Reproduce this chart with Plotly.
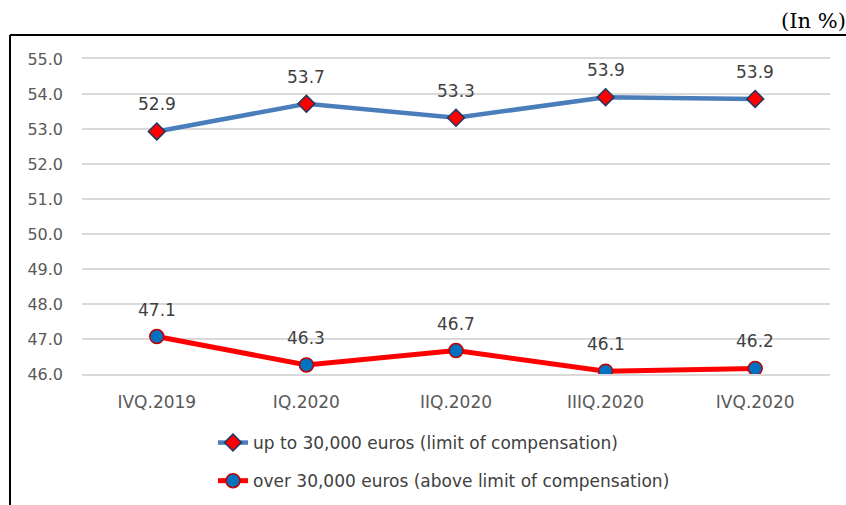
import plotly.graph_objects as go

categories = ["IVQ.2019", "IQ.2020", "IIQ.2020", "IIIQ.2020", "IVQ.2020"]
up_to_30k = [52.93, 53.72, 53.32, 53.91, 53.86]
over_30k = [47.07, 46.26, 46.67, 46.08, 46.16]
name_up = "up to 30,000 euros (limit of compensation)"
name_over = "over 30,000 euros (above limit of compensation)"
y_ticks = [46.0, 47.0, 48.0, 49.0, 50.0, 51.0, 52.0, 53.0, 54.0, 55.0]

W, H = 846, 505
L, R, T, B = 82, 16, 59, 131
pw, ph = W - L - R, H - T - B

def px(x):
    return (x - L) / pw

def py(y):
    return (H - B - y) / ph

FONT = "DejaVu Sans"

fig = go.Figure()
fig.add_trace(go.Scatter(
    x=categories, y=up_to_30k, name=name_up, mode="lines+markers",
    legendgroup="a",
    line=dict(color="#4a7ebb", width=4.5),
    marker=dict(symbol="diamond", size=13, color="#ff0000",
                line=dict(color="#1f3864", width=1.5)),
))
fig.add_trace(go.Scatter(
    x=categories, y=over_30k, name=name_over, mode="lines+markers",
    legendgroup="b",
    line=dict(color="#ff0000", width=5),
    marker=dict(symbol="circle", size=14, color="#0070c0",
                line=dict(color="#c00000", width=1.5)),
))

for c, v in zip(categories + categories, up_to_30k + over_30k):
    fig.add_annotation(x=c, y=v, text=f"{v:.1f}", showarrow=False,
                       yshift=27, font=dict(family=FONT, size=17, color="#404040"))

fig.add_annotation(xref="paper", yref="paper", x=px(779), y=py(21),
                   xanchor="left", yanchor="middle", showarrow=False,
                   text="(In %)", font=dict(family="DejaVu Serif", size=21, color="#000000"))

# outer frame (top and left edges visible)
fig.add_shape(type="line", xref="paper", yref="paper",
              x0=px(10), x1=px(860), y0=py(35), y1=py(35),
              line=dict(color="#000000", width=2))
fig.add_shape(type="line", xref="paper", yref="paper",
              x0=px(10), x1=px(10), y0=py(35), y1=py(515),
              line=dict(color="#000000", width=2))

fig.update_layout(
    width=W, height=H,
    margin=dict(l=L, r=R, t=T, b=B, autoexpand=False),
    paper_bgcolor="white", plot_bgcolor="white",
    font=dict(family=FONT, size=17, color="#595959"),
    showlegend=True,
    legend=dict(x=px(213), y=py(425), xanchor="left", yanchor="top",
                traceorder="grouped", tracegroupgap=13,
                font=dict(family=FONT, size=17, color="#404040"),
                bgcolor="rgba(0,0,0,0)"),
    xaxis=dict(type="category", range=[-0.5, 4.5], showgrid=False,
               showline=True, mirror=True,
               linecolor="#d9d9d9", linewidth=1.5, ticks="",
               ticklabelstandoff=12,
               tickfont=dict(family=FONT, size=17, color="#595959")),
    yaxis=dict(range=[46, 55], tickvals=y_ticks, ticktext=[f"{t:.1f}" for t in y_ticks],
               showgrid=True, gridcolor="#d9d9d9", gridwidth=1.5,
               zeroline=False, showline=False, ticks="",
               ticklabelstandoff=18,
               tickfont=dict(family=FONT, size=16, color="#595959")),
)

fig.write_html("out.html", config={"displayModeBar": False},
               post_script="document.body.style.margin='0';")
